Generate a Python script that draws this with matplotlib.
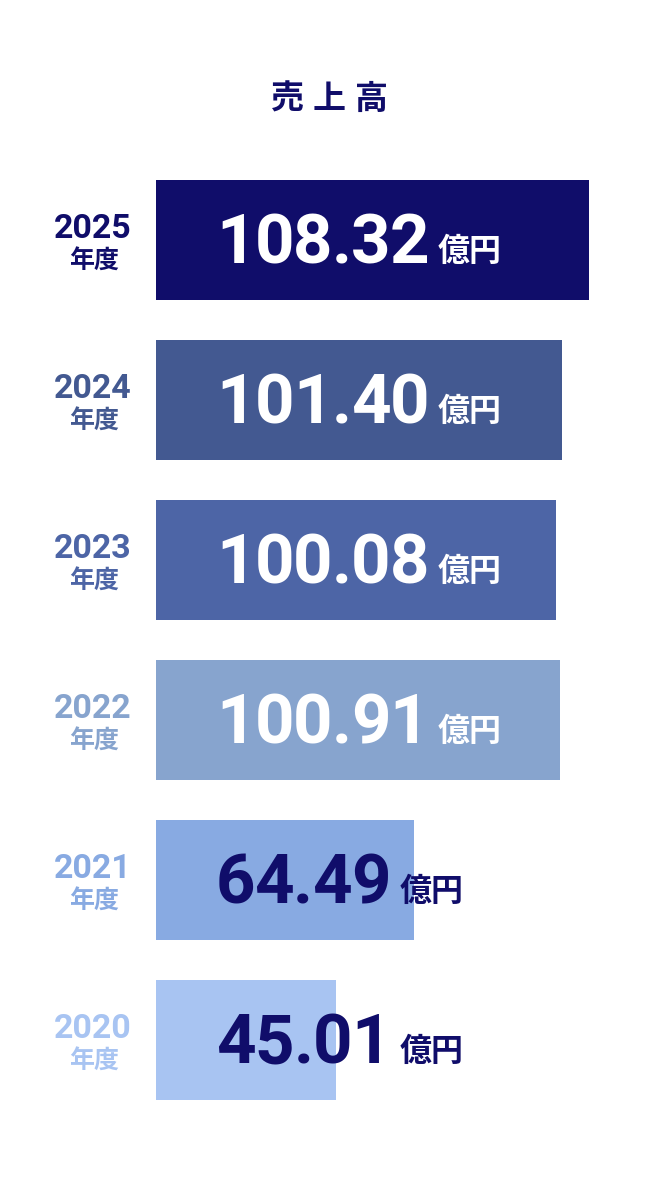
import matplotlib
matplotlib.use('Agg')
import matplotlib.pyplot as plt

# Sales (億円) by fiscal year, top to bottom as in the chart
years = ['2025', '2024', '2023', '2022', '2021', '2020']
sales = [108.32, 101.40, 100.08, 100.91, 64.49, 45.01]
year_suffix = '年度'
unit = '億円'
title = '売上高'

bar_colors = ['#100d6a', '#435991', '#4d65a6', '#87a4ce', '#88aae2', '#a8c4f2']
label_colors = ['white', 'white', 'white', 'white', '#100d6a', '#100d6a']

W, H = 658, 1194
fig = plt.figure(figsize=(W / 72, H / 72), dpi=72)
fig.patch.set_facecolor('white')

# axes: x=0 sits at the left edge of the bars, 4 px per 億円
ax = fig.add_axes([156 / W, 0, 502 / W, 1])
ax.set_xlim(0, 502 / 4)
ax.set_ylim(5 + (H - 1040) / 160, -240 / 160)
ax.axis('off')

pos = list(range(len(years)))
ax.barh(pos, sales, height=0.75, color=bar_colors, left=0)

num_font = ['Roboto', 'DejaVu Sans']
cjk_font = ['Noto Sans CJK JP', 'DejaVu Sans']


def tracked_text(x, y, s, track, **kw):
    # draw a string char by char with tight letter spacing, return last artist
    prev = ax.text(x, y, s[0], ha='left', va='baseline', **kw)
    for ch in s[1:]:
        prev = ax.annotate(ch, xy=(1, y), xycoords=(prev, 'data'),
                           xytext=(track, 0), textcoords='offset points',
                           ha='left', va='baseline', **kw)
    return prev


for i, (yr, val) in enumerate(zip(years, sales)):
    # year label on the left
    ax.text(-15.8, i - 2 / 160, yr, ha='center', va='baseline', fontsize=34,
            fontweight='bold', family=num_font, color=bar_colors[i], clip_on=False)
    ax.text(-15.6, i + 29 / 160, year_suffix, ha='center', va='baseline', fontsize=25,
            fontweight='bold', family=cjk_font, color=bar_colors[i], clip_on=False)
    # value + unit
    last = tracked_text(15, i + 23 / 160, f'{val:.2f}', -1, fontsize=69,
                        fontweight='bold', family=num_font, color=label_colors[i])
    ax.annotate(unit, xy=(1, i + 21 / 160), xycoords=(last, 'data'),
                xytext=(9, 0), textcoords='offset points', ha='left', va='baseline',
                fontsize=32, fontweight='bold', family=cjk_font, color=label_colors[i])

# title with wide letter spacing
for k, ch in enumerate(title):
    fig.text((287.5 + 42 * k) / W, 1 - 109 / H, ch, ha='center', va='baseline',
             fontsize=33, fontweight='bold', family=cjk_font, color='#100d6a')

fig.savefig('out.png', dpi=72, facecolor='white')
